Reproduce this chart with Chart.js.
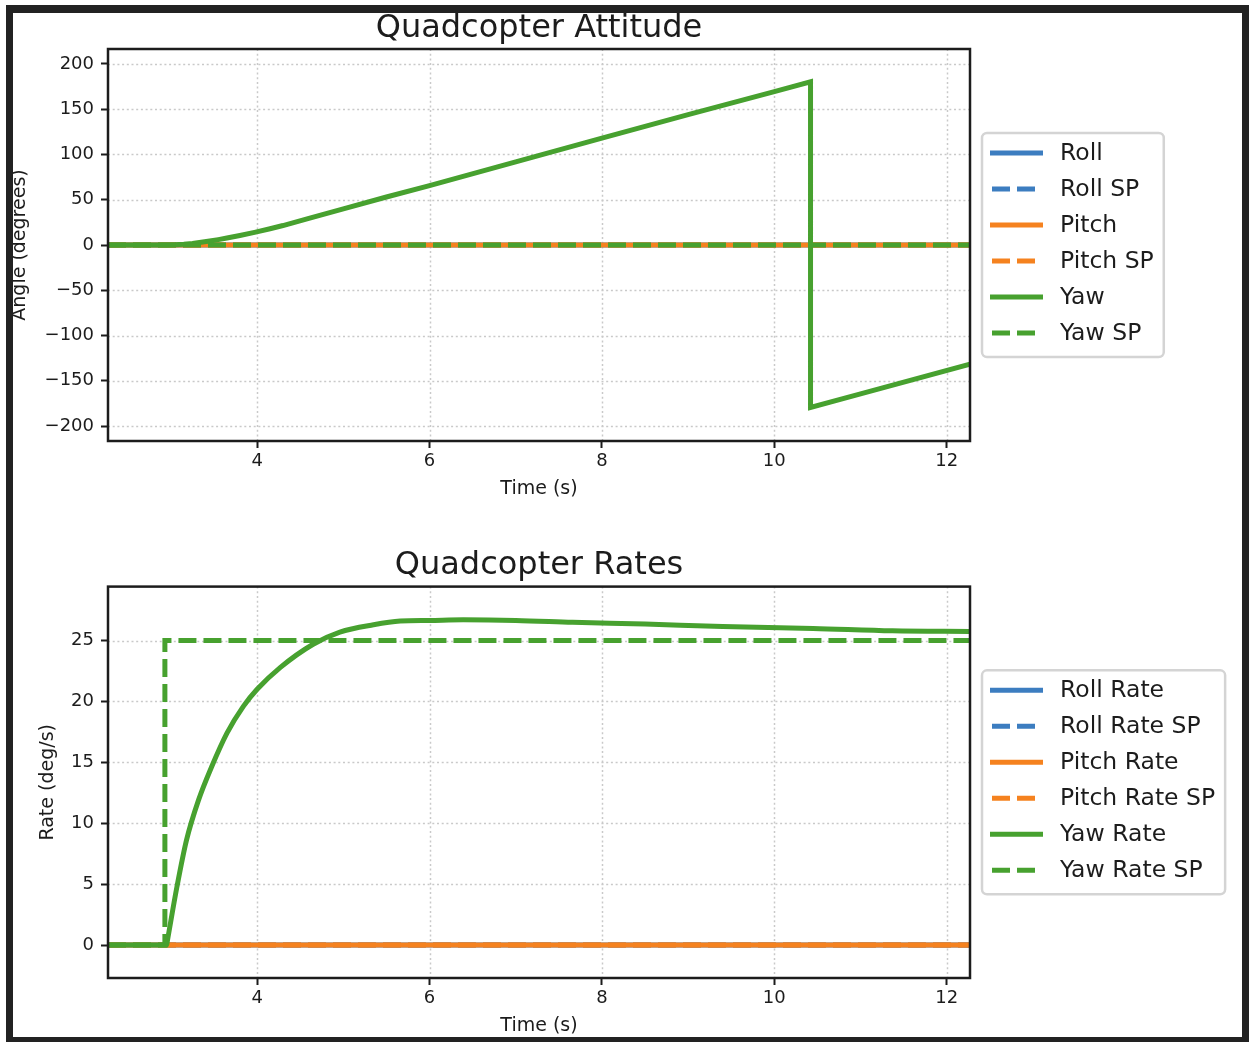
<!DOCTYPE html>
<html>
<head>
<meta charset="utf-8">
<script src="https://cdn.jsdelivr.net/npm/chart.js@4/dist/chart.umd.min.js"></script>
<style>
  body { margin: 0; background: #fff; width: 1249px; height: 1042px; overflow: hidden; position: relative; }
  #frame { position: absolute; left: 6px; top: 5px; width: 1229px; height: 1024px;
           border: 7px solid #222; border-top-width: 8px; z-index: 5; }
  canvas { position: absolute; left: 0; }
  #attitude { top: 0; }
  #rates { top: 520px; }
</style>
</head>
<body>
<div id="frame"></div>
<canvas id="attitude" width="1249" height="501"></canvas>
<canvas id="rates" width="1249" height="518"></canvas>
<script>
// time axis limits and ticks
var timeSpan = [2.27, 12.27];
var timeTicks = [4, 6, 8, 10, 12];
var angleTicks = [-200, -150, -100, -50, 0, 50, 100, 150, 200];
var rateTicks = [0, 5, 10, 15, 20, 25];
var zeroLine = [0, 0];

// attitude: yaw angle (deg), wraps at +-180
var yawTime  = [2.27, 2.95, 3.05, 3.15, 3.25, 3.35, 3.45, 3.55, 3.65, 3.8, 3.97, 4.15, 4.3, 4.6, 5.0, 5.5, 6.0, 7.0, 8.0, 9.0, 10.0, 10.42, 10.42, 11.0, 12.27];
var yawAngle = [0, 0, 0.2, 0.85, 1.8, 3.0, 4.4, 5.95, 7.65, 10.5, 14.0, 18.0, 21.5, 29.5, 40, 53, 65.5, 91.8, 118, 144, 169.5, 180.3, -179.5, -164.5, -131.5];

// rates: yaw rate (deg/s)
var rateTime = [2.27, 2.95, 2.96, 3.07, 3.18, 3.32, 3.47, 3.65, 3.84, 4.0, 4.27, 4.65, 4.96, 5.35, 5.66, 6.0, 6.39, 7.0, 7.66, 8.5, 9.4, 10.45, 11.37, 12.27];
var yawRate  = [0, 0, 0.4, 4.8, 8.6, 11.9, 14.6, 17.4, 19.6, 21.0, 22.8, 24.7, 25.7, 26.3, 26.6, 26.65, 26.7, 26.65, 26.5, 26.35, 26.15, 26.0, 25.8, 25.75];
var yawRateSpTime = [2.27, 2.93, 2.93, 12.27];
var yawRateSp     = [0, 0, 25, 25];

var BLUE = '#3c7dc0', ORANGE = '#f5821f', GREEN = '#47a12f';
var FONT = 'DejaVu Sans';
var TEXT = '#1c1c1c';

function pts(xs, ys) {
  return xs.map(function (x, i) { return { x: x, y: ys[i] }; });
}

function series(label, xs, ys, color, dashed, idx, smooth) {
  return {
    label: label,
    data: pts(xs, ys),
    borderColor: color,
    backgroundColor: color,
    borderWidth: 5,
    borderDash: dashed ? [18, 7] : [],
    pointRadius: 0,
    fill: false,
    tension: smooth ? 0.4 : 0,
    cubicInterpolationMode: smooth ? 'monotone' : 'default',
    order: 5 - idx
  };
}

// dotted grid on the plot area
var dottedGrid = {
  id: 'dottedGrid',
  beforeDatasetsDraw: function (chart) {
    var a = chart.chartArea, ctx = chart.ctx;
    var sx = chart.scales.x, sy = chart.scales.y;
    ctx.save();
    ctx.strokeStyle = '#c9c9c9';
    ctx.lineWidth = 1.5;
    ctx.setLineDash([2, 2.7]);
    sx.ticks.forEach(function (t) {
      var px = Math.round(sx.getPixelForValue(t.value)) + 0.5;
      ctx.beginPath(); ctx.moveTo(px, a.top); ctx.lineTo(px, a.bottom); ctx.stroke();
    });
    sy.ticks.forEach(function (t) {
      var py = Math.round(sy.getPixelForValue(t.value)) + 0.5;
      ctx.beginPath(); ctx.moveTo(a.left, py); ctx.lineTo(a.right, py); ctx.stroke();
    });
    ctx.restore();
  }
};

// axes box like matplotlib spines
var spines = {
  id: 'spines',
  afterDatasetsDraw: function (chart) {
    var a = chart.chartArea, ctx = chart.ctx;
    ctx.save();
    ctx.strokeStyle = TEXT;
    ctx.lineWidth = 2.5;
    ctx.strokeRect(a.left, a.top, a.right - a.left, a.bottom - a.top);
    ctx.restore();
  }
};

// boxed legend to the right of the plot
var sideLegend = {
  id: 'sideLegend',
  afterDraw: function (chart) {
    var a = chart.chartArea, ctx = chart.ctx;
    var items = chart.data.datasets;
    ctx.save();
    ctx.font = '23.5px "' + FONT + '"';
    var textW = Math.max.apply(null, items.map(function (d) { return ctx.measureText(d.label).width; }));
    var x0 = a.right + 12, w = 78 + textW + 10, h = 36 * items.length + 8;
    var y0 = (a.top + a.bottom) / 2 - h / 2;
    ctx.beginPath();
    ctx.roundRect(x0, y0, w, h, 5);
    ctx.fillStyle = 'rgba(255,255,255,0.9)';
    ctx.fill();
    ctx.strokeStyle = '#d4d4d4';
    ctx.lineWidth = 2.5;
    ctx.stroke();
    items.forEach(function (d, i) {
      var y = y0 + 20 + 36 * i;
      var dashed = d.borderDash && d.borderDash.length;
      ctx.beginPath();
      ctx.setLineDash(dashed ? d.borderDash : []);
      ctx.strokeStyle = d.borderColor;
      ctx.lineWidth = 5;
      ctx.moveTo(x0 + (dashed ? 10 : 8), y);
      ctx.lineTo(x0 + (dashed ? 54 : 61), y);
      ctx.stroke();
      ctx.setLineDash([]);
      ctx.fillStyle = TEXT;
      ctx.textBaseline = 'middle';
      ctx.fillText(d.label, x0 + 78, y + 1);
    });
    ctx.restore();
  }
};

function minusFmt(v) {
  return v < 0 ? '\u2212' + Math.abs(v) : String(v);
}

function makeChart(id, opt) {
  var gridBase = {
    drawOnChartArea: false,
    color: '#cfcfcf',
    tickColor: TEXT,
    tickWidth: 2,
    tickLength: 7
  };
  return new Chart(document.getElementById(id), {
    type: 'line',
    data: { datasets: opt.datasets },
    options: {
      responsive: false,
      animation: false,
      layout: { padding: { left: 0, right: 279, top: 0, bottom: 0 } },
      plugins: {
        legend: { display: false },
        tooltip: { enabled: false },
        title: {
          display: true,
          text: opt.title,
          fullSize: false,
          color: TEXT,
          font: { family: FONT, size: 32, weight: 'normal' },
          padding: opt.titlePad
        }
      },
      scales: {
        x: {
          type: 'linear',
          min: timeSpan[0],
          max: timeSpan[1],
          afterBuildTicks: function (s) { s.ticks = timeTicks.map(function (v) { return { value: v }; }); },
          afterFit: function (s) { s.height = 60; },
          grid: gridBase,
          border: { display: false },
          ticks: { color: TEXT, padding: 2.5, maxRotation: 0, font: { family: FONT, size: 18 } },
          title: { display: true, text: 'Time (s)', color: TEXT, font: { family: FONT, size: 19 }, padding: { top: 0, bottom: opt.xTitleBottom } }
        },
        y: {
          type: 'linear',
          min: opt.yRange[0],
          max: opt.yRange[1],
          afterBuildTicks: function (s) { s.ticks = opt.yTicks.map(function (v) { return { value: v }; }); },
          afterFit: function (s) { s.width = 108; },
          grid: gridBase,
          border: { display: false },
          ticks: { color: TEXT, padding: 7, callback: minusFmt, font: { family: FONT, size: 18 } },
          title: { display: true, text: opt.yLabel, color: TEXT, font: { family: FONT, size: 19 }, padding: { top: opt.yTitleTop, bottom: 0 } }
        }
      }
    },
    plugins: [dottedGrid, spines, sideLegend]
  });
}

makeChart('attitude', {
  title: 'Quadcopter Attitude',
  titlePad: { top: 9.8, bottom: 0.8 },
  yLabel: 'Angle (degrees)',
  yTitleTop: 9.1,
  xTitleBottom: 1.0,
  yRange: [-216.5, 216.5],
  yTicks: angleTicks,
  datasets: [
    series('Roll', timeSpan, zeroLine, BLUE, false, 0),
    series('Roll SP', timeSpan, zeroLine, BLUE, true, 1),
    series('Pitch', timeSpan, zeroLine, ORANGE, false, 2),
    series('Pitch SP', timeSpan, zeroLine, ORANGE, true, 3),
    series('Yaw', yawTime, yawAngle, GREEN, false, 4),
    series('Yaw SP', timeSpan, zeroLine, GREEN, true, 5)
  ]
});

makeChart('rates', {
  title: 'Quadcopter Rates',
  titlePad: { top: 26.6, bottom: 1.6 },
  yLabel: 'Rate (deg/s)',
  yTitleTop: 37.1,
  xTitleBottom: 0.2,
  yRange: [-2.7, 29.43],
  yTicks: rateTicks,
  datasets: [
    series('Roll Rate', timeSpan, zeroLine, BLUE, false, 0),
    series('Roll Rate SP', timeSpan, zeroLine, BLUE, true, 1),
    series('Pitch Rate', timeSpan, zeroLine, ORANGE, false, 2),
    series('Pitch Rate SP', timeSpan, zeroLine, ORANGE, true, 3),
    series('Yaw Rate', rateTime, yawRate, GREEN, false, 4, true),
    series('Yaw Rate SP', yawRateSpTime, yawRateSp, GREEN, true, 5)
  ]
});
</script>
</body>
</html>
